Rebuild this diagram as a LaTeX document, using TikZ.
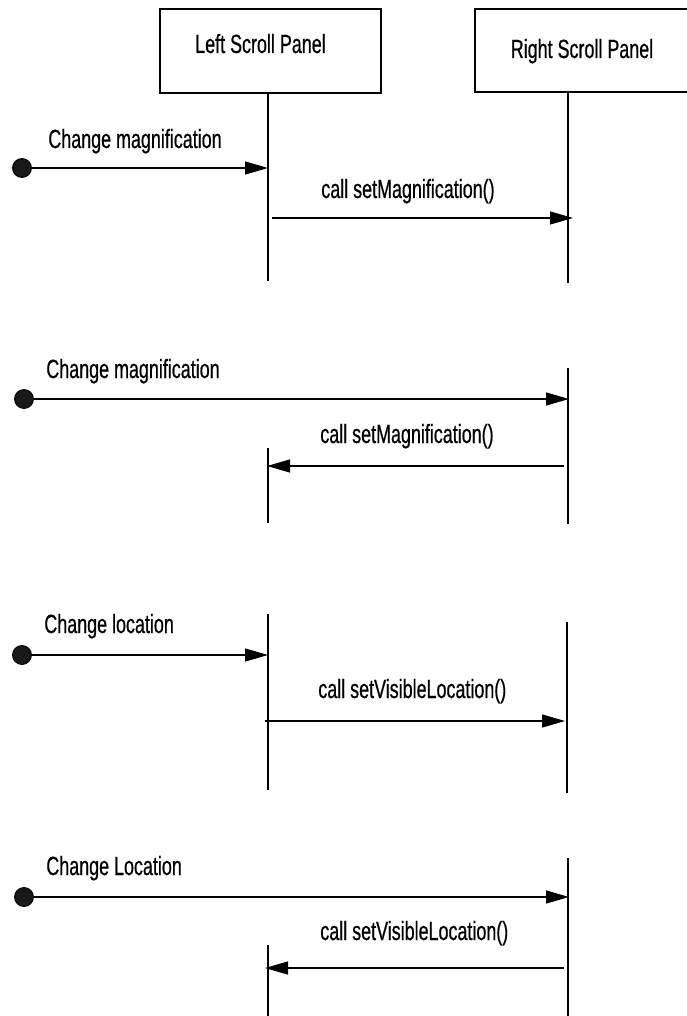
\documentclass[tikz,border=0pt]{standalone}
\usepackage{fontspec}
\setmainfont{Liberation Sans}[FakeStretch=0.68,FakeBold=0.6]
\usetikzlibrary{arrows.meta}
\tikzset{
  panel/.style={draw,line width=0.7pt,inner sep=0pt},
  lifeline/.style={line width=0.7pt},
  start/.style={circle,draw,fill=black!90,line width=0.5pt,minimum size=0.38cm,inner sep=0pt},
  msg/.style={line width=0.7pt,-{Triangle[length=0.46cm,width=0.26cm]}},
  lbl/.style={anchor=base west,inner sep=0pt}
}
\begin{document}
\begin{tikzpicture}[x=0.02cm,y=-0.02cm,line cap=butt,line join=miter,
  font=\fontsize{15pt}{18pt}\selectfont]
  \useasboundingbox (0,0) rectangle (686,1016);
  % the two panels
  \node[panel,minimum width=4.42cm,minimum height=1.68cm,text height=0.32cm,text depth=0.24cm]
    (lsp) at (270.5,51) {\hspace*{-0.4cm}Left Scroll Panel};
  \node[panel,minimum width=4.28cm,minimum height=1.66cm,text height=0.34cm,text depth=0.04cm]
    (rsp) at (582,50.5) {Right Scroll Panel};
  % lifelines
  \coordinate (la1) at (268,93);  \coordinate (lb1) at (268,281);
  \coordinate (ra1) at (568,92);  \coordinate (rb1) at (568,283);
  \coordinate (la2) at (268,448); \coordinate (lb2) at (268,523);
  \coordinate (ra2) at (568,368); \coordinate (rb2) at (568,524);
  \coordinate (la3) at (268,614); \coordinate (lb3) at (268,790);
  \coordinate (ra3) at (567,622); \coordinate (rb3) at (567,793);
  \coordinate (la4) at (268,945); \coordinate (lb4) at (268,1016);
  \coordinate (ra4) at (568,858); \coordinate (rb4) at (568,1016);
  \draw[lifeline] (la1) -- (lb1);
  \draw[lifeline] (ra1) -- (rb1);
  \draw[lifeline] (la2) -- (lb2);
  \draw[lifeline] (ra2) -- (rb2);
  \draw[lifeline] (la3) -- (lb3);
  \draw[lifeline] (ra3) -- (rb3);
  \draw[lifeline] (la4) -- (lb4);
  \draw[lifeline] (ra4) -- (rb4);
  % starting points
  \node[start] (s1) at (22,168) {};
  \node[start] (s2) at (24,399) {};
  \node[start] (s3) at (22,655) {};
  \node[start] (s4) at (24,897) {};
  % message ends
  \coordinate (e1) at (268,168);
  \coordinate (c1a) at (272,218); \coordinate (c1b) at (573,218);
  \coordinate (e2) at (569,399);
  \coordinate (c2a) at (564,466); \coordinate (c2b) at (267,466);
  \coordinate (e3) at (268,655);
  \coordinate (c3a) at (265,721); \coordinate (c3b) at (565,721);
  \coordinate (e4) at (569,897);
  \coordinate (c4a) at (564,968); \coordinate (c4b) at (265,968);
  % messages
  \draw[msg] (s1.east) -- (e1);
  \draw[msg] (c1a) -- (c1b);
  \draw[msg] (s2.east) -- (e2);
  \draw[msg] (c2a) -- (c2b);
  \draw[msg] (s3.east) -- (e3);
  \draw[msg] (c3a) -- (c3b);
  \draw[msg] (s4.east) -- (e4);
  \draw[msg] (c4a) -- (c4b);
  % labels
  \node[lbl] (t1) at (48,148) {Change magnification};
  \node[lbl] (u1) at (321,198) {call setMagnification()};
  \node[lbl] (t2) at (46,378) {Change magnification};
  \node[lbl] (u2) at (320,443) {call setMagnification()};
  \node[lbl] (t3) at (44,633) {Change location};
  \node[lbl] (u3) at (318,698) {call setVisibleLocation()};
  \node[lbl] (t4) at (46,875) {Change Location};
  \node[lbl] (u4) at (320,940) {call setVisibleLocation()};
\end{tikzpicture}
\end{document}
